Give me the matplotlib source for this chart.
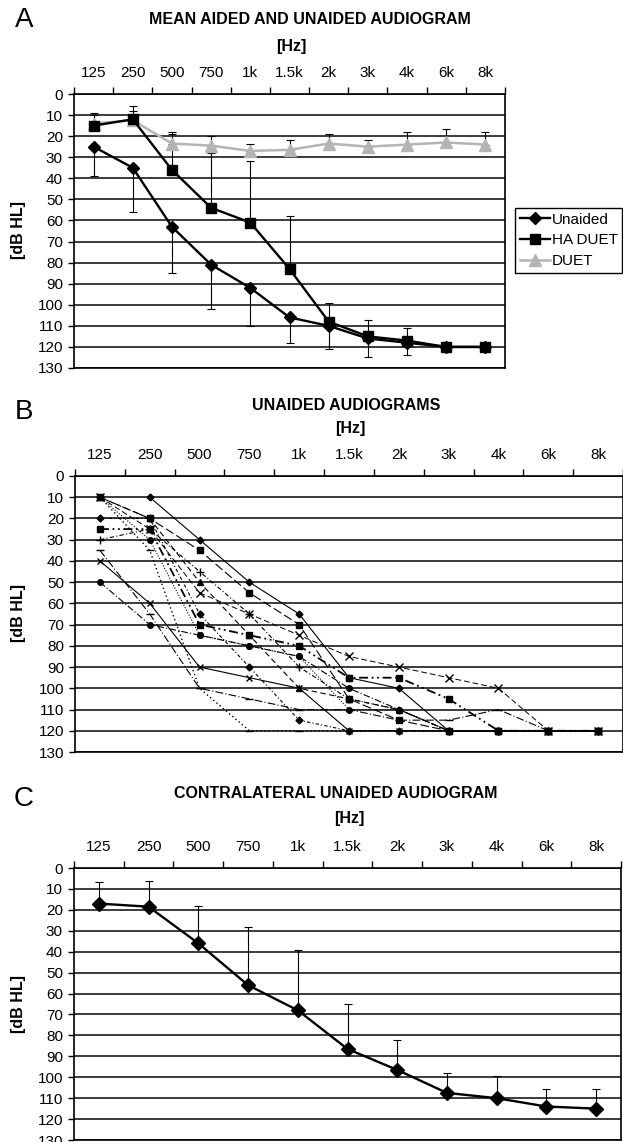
import numpy as np
import matplotlib
matplotlib.use("Agg")
import matplotlib.pyplot as plt
from matplotlib.lines import Line2D

plt.rcParams['font.family'] = ['Liberation Sans', 'DejaVu Sans']

# frequency categories (same for all three panels)
freqs = ["125", "250", "500", "750", "1k", "1.5k", "2k", "3k", "4k", "6k", "8k"]

# panel A - mean audiograms, error bars are one sided
unaided_mean = [25, 35, 63, 81, 92, 106, 110, 116, 118, 120, 120]
unaided_sd = [14, 21, 22, 21, 18, 12, 11, 9, 6, 0, 0]
ha_duet_mean = [15, 12, 36, 54, 61, 83, 108, 115, 117, 120, 120]
ha_duet_sd = [5, 4, 17, 26, 29, 25, 9, 8, 6, 0, 0]
duet_mean = [14, 12.5, 23.5, 24.5, 27, 26.5, 23.5, 25, 24, 23, 24]
duet_sd = [5, 7, 5.5, 4.5, 3.5, 4.5, 4.5, 3, 6, 6.5, 6]

# panel B - individual unaided audiograms
nan = np.nan
pat01 = [nan, 10, 30, 50, 65, 95, 100, 120, 120, 120, 120]
pat02 = [40, 60, 90, 95, 100, 120, 120, 120, 120, 120, 120]
pat03 = [10, 20, 35, 55, 70, 105, 115, 120, 120, 120, 120]
pat04 = [10, 25, 55, 65, 75, 85, 90, 95, 100, 120, 120]
pat05 = [25, 25, 70, 75, 80, 95, 95, 105, 120, 120, 120]
pat06 = [50, 70, 75, 80, 85, 100, 110, 120, 120, 120, 120]
pat07 = [20, 20, 65, 90, 115, 120, 120, 120, 120, 120, 120]
pat08 = [30, 25, 45, 65, 90, 105, 110, 120, 120, 120, 120]
pat09 = [35, 65, 100, 105, 110, 110, 115, 115, 110, 120, 120]
pat10 = [10, 20, 50, 75, 100, 105, 110, 120, 120, 120, 120]
pat11 = [10, 35, 100, 120, 120, 120, 120, 120, 120, 120, 120]
pat12 = [10, 30, 75, 80, 85, 110, 110, 120, 120, 120, 120]
patients = [pat01, pat02, pat03, pat04, pat05, pat06,
            pat07, pat08, pat09, pat10, pat11, pat12]

# panel C - contralateral ear
contra_mean = [17, 18.5, 36, 56, 68, 86.5, 96.5, 107.5, 110, 114, 115]
contra_sd = [10.5, 12.5, 18, 28, 29, 21.5, 14.5, 9.5, 10.5, 8.5, 9.5]

W, H = 623, 1142


def px_axes(fig, left, right, top, bottom):
    """axes from pixel box (top/bottom measured from top of figure)"""
    return fig.add_axes([left / W, 1 - bottom / H, (right - left) / W, (bottom - top) / H])


def setup_audiogram(ax):
    x = np.arange(len(freqs))
    ax.set_xlim(-0.5, len(freqs) - 0.5)
    ax.set_ylim(130, 0)
    ax.set_yticks(np.arange(0, 131, 10))
    ax.set_xticks(np.arange(-0.5, len(freqs), 1))
    ax.set_xticklabels([])
    ax.set_xticks(x, minor=True)
    ax.set_xticklabels(freqs, minor=True)
    ax.tick_params(axis='x', which='both', top=True, bottom=False,
                   labeltop=True, labelbottom=False)
    ax.tick_params(axis='x', which='major', length=5, width=1, direction='out')
    ax.tick_params(axis='x', which='minor', length=0, pad=10, labelsize=11)
    ax.tick_params(axis='y', length=4, width=1, pad=4, labelsize=11)
    ax.yaxis.grid(True, color='#1a1a1a', lw=1.2)
    ax.set_axisbelow(True)
    for s in ax.spines.values():
        s.set_linewidth(1.2)
        s.set_color('black')


def one_sided(sd, up):
    sd = np.asarray(sd, dtype=float)
    z = np.zeros_like(sd)
    return [sd, z] if up else [z, sd]


fig = plt.figure(figsize=(W / 100, H / 100), dpi=100)
x = np.arange(len(freqs))

# ---------------- A ----------------
axA = px_axes(fig, 74, 505, 94, 368)
setup_audiogram(axA)
ekw = dict(fmt='none', ecolor='black', elinewidth=0.8, capsize=3, capthick=0.8, zorder=2)
axA.errorbar(x, unaided_mean, yerr=one_sided(unaided_sd, up=False), **ekw)
axA.errorbar(x, ha_duet_mean, yerr=one_sided(ha_duet_sd, up=True), **ekw)
axA.errorbar(x, duet_mean, yerr=one_sided(duet_sd, up=True), **ekw)
axA.plot(x, duet_mean, color='#b4b4b4', lw=1.8, marker='^', ms=8, zorder=3, label='DUET')
axA.plot(x, unaided_mean, color='black', lw=1.7, marker='D', ms=6.5, zorder=4, label='Unaided')
axA.plot(x, ha_duet_mean, color='black', lw=1.7, marker='s', ms=7.5, zorder=4, label='HA DUET')
handles = [Line2D([], [], color='black', lw=1.7, marker='D', ms=6.5),
           Line2D([], [], color='black', lw=1.7, marker='s', ms=7.5),
           Line2D([], [], color='#b4b4b4', lw=1.8, marker='^', ms=8)]
leg = fig.legend(handles, ['Unaided', 'HA DUET', 'DUET'], loc='upper left',
                 bbox_to_anchor=(515 / W, 1 - 208 / H), fontsize=11,
                 handlelength=2.0, handletextpad=0.1, borderpad=0.3,
                 borderaxespad=0, labelspacing=0.45, fancybox=False, framealpha=1)
leg.get_frame().set_edgecolor('black')
leg.get_frame().set_linewidth(1.0)

# ---------------- B ----------------
axB = px_axes(fig, 75, 623, 476, 752)
setup_audiogram(axB)
styles = [
    dict(ls='-', marker='D', ms=3.5, lw=0.8),
    dict(ls='-', marker='x', ms=5, lw=0.8),
    dict(ls=(0, (8, 3)), marker='s', ms=4, lw=0.8),
    dict(ls=(0, (6, 3)), marker='x', ms=6, lw=0.7),
    dict(ls=(0, (5, 2, 1, 2, 1, 2)), marker='s', ms=4.5, lw=1.3),
    dict(ls=(0, (6, 2, 1, 2)), marker='o', ms=4, lw=0.8),
    dict(ls=(0, (3, 2, 1, 2)), marker='D', ms=3.5, lw=0.8),
    dict(ls=(0, (4, 2, 1, 2)), marker='+', ms=6, lw=0.8),
    dict(ls=(0, (7, 2, 1, 2)), marker='_', ms=6, lw=0.8),
    dict(ls=(0, (5, 3)), marker='^', ms=4.5, lw=0.8),
    dict(ls=(0, (1, 2)), marker='_', ms=6, lw=1.0),
    dict(ls=(0, (1, 1.5)), marker='o', ms=4, lw=0.8),
]
for vals, st in zip(patients, styles):
    axB.plot(x, vals, color='black', marker=st['marker'], ms=st['ms'],
             ls=st['ls'], lw=st['lw'], zorder=3)

# ---------------- C ----------------
axC = px_axes(fig, 74, 621, 868, 1140)
setup_audiogram(axC)
axC.errorbar(x, contra_mean, yerr=one_sided(contra_sd, up=True), **ekw)
axC.plot(x, contra_mean, color='black', lw=1.7, marker='D', ms=7, zorder=4)

# panel letters, titles, axis names
panels = [("A", 20, "MEAN AIDED AND UNAIDED AUDIOGRAM", 310, 19, 291, 47, 230),
          ("B", 412, "UNAIDED AUDIOGRAMS", 346, 405, 350, 428, 613),
          ("C", 799, "CONTRALATERAL UNAIDED AUDIOGRAM", 336, 793, 349, 819, 1004)]
for letter, ly, title, tx, ty, hx, hy, yy in panels:
    fig.text(24 / W, 1 - ly / H, letter, fontsize=20, ha='center', va='center')
    fig.text(tx / W, 1 - ty / H, title, fontsize=11.5, fontweight='bold', ha='center', va='center')
    fig.text(hx / W, 1 - hy / H, "[Hz]", fontsize=11.5, fontweight='bold', ha='center', va='center')
    fig.text(19 / W, 1 - yy / H, "[dB HL]", fontsize=11.5, fontweight='bold',
             rotation=90, ha='center', va='center')

plt.savefig("out.png", dpi=100)
